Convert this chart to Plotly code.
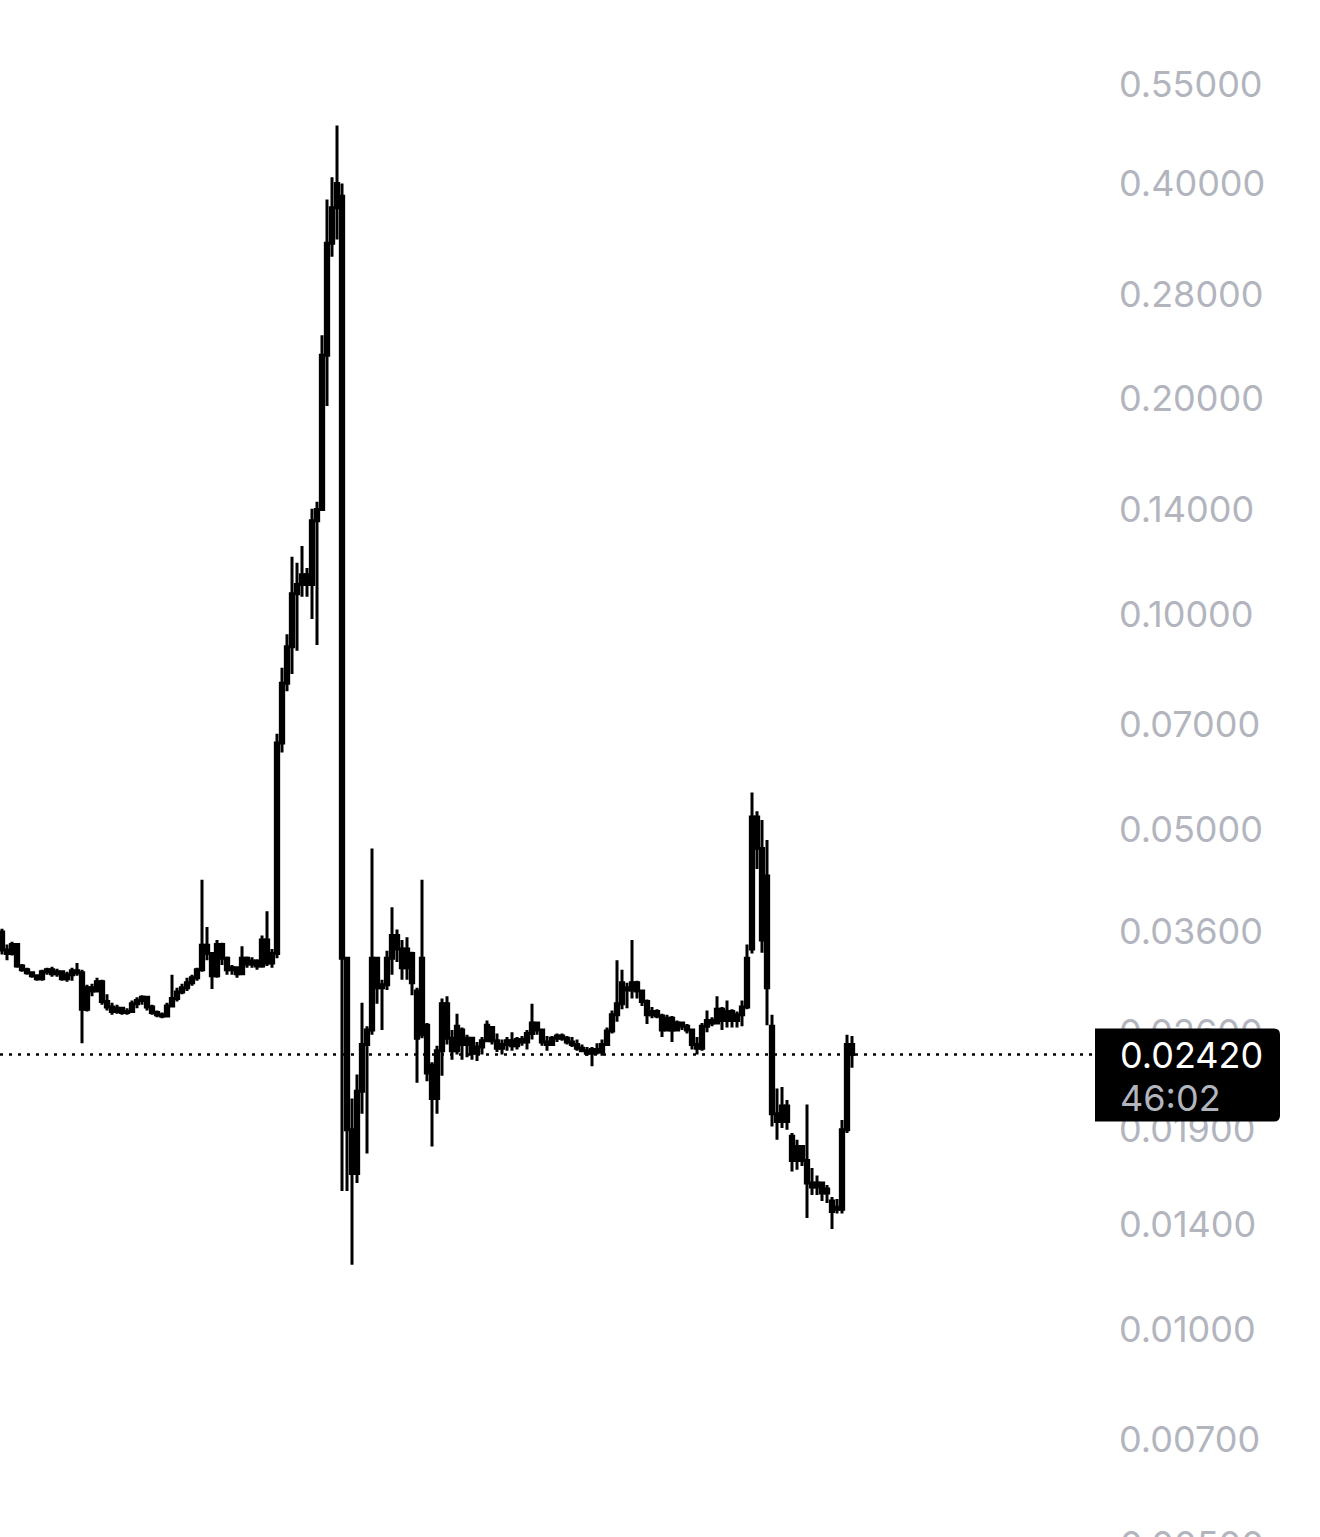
import math
import plotly.graph_objects as go

# ---- data ----
opens = [
    .0339, .0339, .0335, .0345, .0322, .0318, .0315, .0312, .0309, .0316,
    .0318, .0314, .0316, .0309, .0313, .0317, .0315, .0280, .0300, .0297,
    .0306, .0287, .0282, .0278, .0281, .0277, .0278, .0285, .0288, .0291,
    .0282, .0277, .0275, .0274, .0283, .0290, .0296, .0300, .0305, .0310,
    .0318, .0344, .0335, .0312, .0345, .0330, .0318, .0320, .0314, .0330,
    .0324, .0327, .0322, .0350, .0325, .0335, .0660, .0800, .0900, .1067,
    .1100, .1135, .1100, .1350, .1400, .2300, .3300, .3700, .3840, .0330,
    .0190, .0165, .0215, .0250, .0262, .0330, .0300, .0303, .0330, .0355,
    .0340, .0320, .0335, .0297, .0258, .0266, .0234, .0210, .0245, .0285,
    .0255, .0245, .0262, .0250, .0255, .0243, .0248, .0253, .0264, .0253,
    .0247, .0250, .0253, .0249, .0254, .0252, .0259, .0268, .0262, .0252,
    .0250, .0255, .0257, .0255, .0252, .0250, .0247, .0245, .0243, .0246,
    .0244, .0250, .0261, .0275, .0285, .0300, .0298, .0305, .0297, .0287,
    .0275, .0278, .0274, .0262, .0272, .0262, .0268, .0265, .0262, .0250,
    .0247, .0265, .0270, .0268, .0280, .0270, .0278, .0270, .0275, .0282,
    .0340, .0520, .0470, .0430, .0265, .0200, .0195, .0205, .0186, .0172,
    .0180, .0172, .0160, .0158, .0160, .0155, .0151, .0148, .0147, .0190,
    .0250,
]
highs = [
    .0363, .0345, .0348, .0346, .0324, .0320, .0316, .0313, .0318, .0320,
    .0321, .0319, .0316, .0316, .0320, .0325, .0318, .0303, .0304, .0310,
    .0308, .0294, .0286, .0284, .0282, .0281, .0288, .0291, .0293, .0292,
    .0284, .0279, .0277, .0286, .0313, .0300, .0304, .0310, .0313, .0320,
    .0425, .0365, .0336, .0350, .0347, .0332, .0323, .0321, .0343, .0332,
    .0331, .0329, .0355, .0384, .0340, .0680, .0841, .0937, .1202, .1179,
    .1245, .1160, .1403, .1435, .2454, .3800, .4080, .4820, .4000, .0331,
    .0210, .0227, .0286, .0265, .0470, .0330, .0308, .0338, .0389, .0362,
    .0350, .0353, .0337, .0300, .0425, .0268, .0236, .0249, .0290, .0292,
    .0262, .0276, .0264, .0258, .0256, .0252, .0256, .0270, .0265, .0259,
    .0254, .0256, .0260, .0256, .0257, .0262, .0285, .0268, .0263, .0257,
    .0257, .0259, .0259, .0257, .0256, .0254, .0250, .0248, .0248, .0251,
    .0254, .0264, .0279, .0328, .0318, .0305, .0350, .0307, .0298, .0289,
    .0282, .0280, .0276, .0275, .0274, .0270, .0269, .0267, .0262, .0256,
    .0268, .0279, .0273, .0292, .0282, .0288, .0280, .0278, .0288, .0345,
    .0563, .0530, .0515, .0483, .0275, .0217, .0218, .0209, .0188, .0184,
    .0180, .0206, .0168, .0164, .0160, .0159, .0153, .0152, .0196, .0258,
    .0257,
]
lows = [
    .0334, .0328, .0333, .0320, .0316, .0313, .0310, .0307, .0307, .0313,
    .0311, .0311, .0307, .0306, .0307, .0312, .0251, .0278, .0292, .0296,
    .0284, .0279, .0275, .0276, .0275, .0275, .0277, .0281, .0284, .0279,
    .0275, .0273, .0272, .0273, .0282, .0287, .0294, .0297, .0302, .0307,
    .0316, .0328, .0299, .0310, .0323, .0313, .0313, .0310, .0313, .0320,
    .0320, .0318, .0320, .0322, .0320, .0330, .0640, .0780, .0824, .0888,
    .1057, .1057, .0984, .0905, .1400, .1954, .3160, .3340, .0156, .0156,
    .0123, .0160, .0200, .0176, .0258, .0285, .0262, .0298, .0313, .0326,
    .0308, .0308, .0293, .0221, .0255, .0222, .0180, .0200, .0226, .0250,
    .0238, .0242, .0238, .0240, .0238, .0237, .0242, .0252, .0250, .0244,
    .0242, .0245, .0245, .0246, .0249, .0246, .0254, .0258, .0249, .0245,
    .0249, .0252, .0253, .0250, .0248, .0245, .0244, .0241, .0233, .0242,
    .0241, .0249, .0259, .0269, .0280, .0281, .0290, .0290, .0283, .0267,
    .0272, .0272, .0256, .0262, .0252, .0261, .0262, .0259, .0246, .0242,
    .0245, .0260, .0265, .0268, .0262, .0264, .0264, .0264, .0265, .0280,
    .0335, .0440, .0336, .0266, .0192, .0184, .0191, .0190, .0166, .0167,
    .0169, .0143, .0154, .0154, .0151, .0150, .0138, .0145, .0145, .0188,
    .0232,
]
closes = [
    .0359, .0335, .0345, .0322, .0318, .0315, .0312, .0309, .0316, .0318,
    .0314, .0316, .0309, .0313, .0317, .0315, .0280, .0300, .0297, .0306,
    .0287, .0282, .0278, .0281, .0277, .0278, .0285, .0288, .0291, .0282,
    .0277, .0275, .0274, .0283, .0290, .0296, .0300, .0305, .0310, .0318,
    .0344, .0335, .0312, .0345, .0330, .0318, .0320, .0314, .0330, .0324,
    .0327, .0322, .0350, .0325, .0335, .0660, .0800, .0900, .1067, .1100,
    .1135, .1100, .1350, .1400, .2300, .3300, .3700, .4000, .0330, .0190,
    .0165, .0215, .0250, .0262, .0330, .0300, .0303, .0330, .0355, .0340,
    .0320, .0340, .0305, .0255, .0330, .0228, .0210, .0245, .0285, .0255,
    .0245, .0265, .0250, .0255, .0243, .0248, .0253, .0266, .0253, .0247,
    .0250, .0253, .0249, .0254, .0252, .0259, .0268, .0262, .0252, .0250,
    .0255, .0257, .0255, .0252, .0250, .0247, .0245, .0243, .0246, .0244,
    .0250, .0261, .0275, .0285, .0305, .0298, .0305, .0297, .0287, .0275,
    .0278, .0274, .0262, .0272, .0262, .0268, .0265, .0262, .0250, .0247,
    .0265, .0270, .0268, .0280, .0270, .0278, .0270, .0275, .0282, .0330,
    .0520, .0470, .0350, .0300, .0200, .0195, .0205, .0195, .0172, .0180,
    .0172, .0160, .0158, .0160, .0155, .0157, .0146, .0147, .0190, .0250,
    .0242,
]
tick_vals = [0.007, 0.01, 0.014, 0.019, 0.026, 0.036, 0.05, 0.07,
             0.1, 0.14, 0.2, 0.28, 0.4, 0.55]
tick_text = ["0.00700", "0.01000", "0.01400", "0.01900", "0.02600",
             "0.03600", "0.05000", "0.07000", "0.10000", "0.14000",
             "0.20000", "0.28000", "0.40000", "0.55000"]
edge_tick_val = 0.005
edge_tick_text = "0.00500"
last_price = 0.02420
last_price_text = "0.02420"
countdown = "46:02"

# ---- layout constants ----
W, H = 1320, 1537
MR = 225
Y_RANGE = [-2.2909, -0.1413]
X_RANGE = [-0.4, 218.6]
LABEL_GRAY = "#b2b5be"
FONT = "Inter"
FS = 36
LABEL_SHIFT = 23


def paper_y(v):
    return (math.log10(v) - Y_RANGE[0]) / (Y_RANGE[1] - Y_RANGE[0])


x = list(range(len(closes)))

fig = go.Figure(go.Candlestick(
    x=x, open=opens, high=highs, low=lows, close=closes,
    increasing=dict(line=dict(color="black", width=3), fillcolor="black"),
    decreasing=dict(line=dict(color="black", width=3), fillcolor="black"),
    whiskerwidth=0, hoverinfo="skip", showlegend=False,
))

py = paper_y(last_price)

fig.update_layout(
    width=W, height=H,
    margin=dict(l=0, r=MR, t=0, b=0, pad=0),
    paper_bgcolor="white", plot_bgcolor="white",
    boxgap=0.05,
    showlegend=False,
    xaxis=dict(range=X_RANGE, visible=False, rangeslider=dict(visible=False),
               showgrid=False, zeroline=False),
    yaxis=dict(type="log", range=Y_RANGE, side="right", tickmode="array",
               tickvals=tick_vals, ticktext=tick_text, showgrid=False,
               zeroline=False, showline=False, ticks="",
               ticklabelstandoff=LABEL_SHIFT,
               tickfont=dict(family=FONT, size=FS, color=LABEL_GRAY)),
    shapes=[
        dict(type="line", xref="paper", yref="paper", x0=0, x1=1, y0=py, y1=py,
             line=dict(color="black", width=2.5, dash="3px,6px"), layer="above"),
        dict(type="path", xref="paper", yref="paper", xsizemode="pixel",
             ysizemode="pixel", xanchor=1, yanchor=py,
             path="M 0,26 L 179,26 Q 185,26 185,20 L 185,-61 Q 185,-67 179,-67 L 0,-67 Z",
             fillcolor="black", line=dict(width=0), layer="above"),
    ],
    annotations=[
        dict(xref="paper", yref="paper", x=1, y=paper_y(edge_tick_val),
             xanchor="left", yanchor="middle", xshift=LABEL_SHIFT,
             text=edge_tick_text, showarrow=False,
             font=dict(family=FONT, size=FS, color=LABEL_GRAY)),
        dict(xref="paper", yref="paper", x=1, y=py, xanchor="left",
             yanchor="middle", xshift=LABEL_SHIFT, text=last_price_text,
             showarrow=False, font=dict(family=FONT, size=FS, color="white")),
        dict(xref="paper", yref="paper", x=1, y=py, xanchor="left",
             yanchor="middle", xshift=LABEL_SHIFT, yshift=-43, text=countdown,
             showarrow=False, font=dict(family=FONT, size=FS, color=LABEL_GRAY)),
    ],
)

fig.write_html("out.html", config={"displayModeBar": False},
               post_script="document.body.style.margin='0px';")
